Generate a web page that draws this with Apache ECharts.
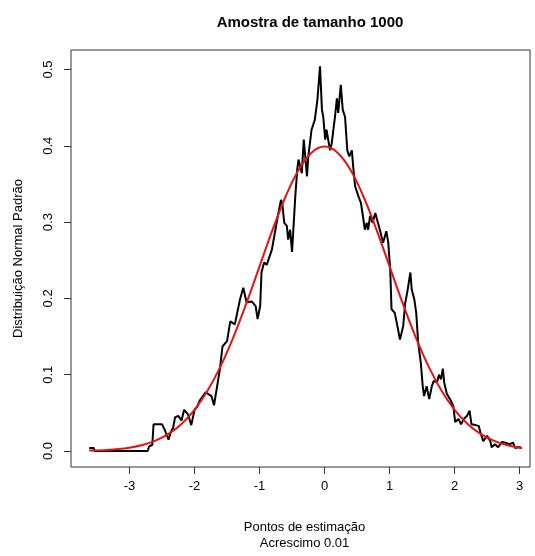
<!DOCTYPE html>
<html>
<head>
<meta charset="utf-8">
<script src="https://cdn.jsdelivr.net/npm/echarts@6/dist/echarts.min.js"></script>
<style>
html,body{margin:0;padding:0;background:#fff;}
#chart{width:535px;height:556px;}
</style>
</head>
<body>
<div id="chart"></div>
<script>
// Naive estimator (black): x positions and density values
var estX = [-3.62,-3.55,-3.54,-2.72,-2.70,-2.65,-2.63,-2.50,-2.46,-2.40,-2.36,-2.33,-2.30,-2.25,-2.20,-2.16,-2.10,-2.05,-2.00,-1.96,-1.92,-1.83,-1.74,-1.70,-1.66,-1.61,-1.57,-1.50,-1.45,-1.38,-1.30,-1.25,-1.20,-1.12,-1.06,-1.03,-0.99,-0.97,-0.93,-0.89,-0.81,-0.76,-0.71,-0.67,-0.65,-0.62,-0.58,-0.56,-0.53,-0.50,-0.45,-0.42,-0.40,-0.35,-0.32,-0.27,-0.25,-0.20,-0.15,-0.11,-0.07,-0.04,-0.02,0.01,0.03,0.085,0.11,0.16,0.19,0.21,0.25,0.28,0.315,0.35,0.38,0.42,0.44,0.47,0.52,0.56,0.59,0.62,0.65,0.67,0.70,0.74,0.78,0.81,0.85,0.90,0.95,0.98,1.01,1.03,1.08,1.12,1.16,1.21,1.24,1.27,1.32,1.34,1.38,1.41,1.44,1.48,1.51,1.53,1.57,1.61,1.65,1.68,1.73,1.76,1.79,1.82,1.84,1.88,1.93,1.98,2.01,2.06,2.10,2.14,2.19,2.23,2.26,2.32,2.37,2.40,2.44,2.50,2.55,2.57,2.62,2.67,2.73,2.78,2.85,2.90,2.93,2.97,3.02];
var estY = [0.004,0.004,0.000,0.000,0.006,0.008,0.035,0.035,0.028,0.015,0.026,0.030,0.044,0.046,0.040,0.054,0.048,0.034,0.054,0.058,0.066,0.077,0.072,0.060,0.081,0.107,0.137,0.144,0.170,0.166,0.199,0.214,0.195,0.196,0.190,0.173,0.190,0.234,0.247,0.244,0.264,0.288,0.312,0.329,0.325,0.299,0.295,0.277,0.290,0.261,0.334,0.369,0.382,0.364,0.408,0.360,0.386,0.421,0.434,0.460,0.504,0.447,0.438,0.408,0.421,0.394,0.403,0.438,0.462,0.443,0.480,0.447,0.438,0.394,0.386,0.394,0.373,0.347,0.334,0.325,0.308,0.290,0.299,0.290,0.308,0.299,0.312,0.314,0.290,0.273,0.288,0.273,0.238,0.186,0.181,0.164,0.146,0.164,0.194,0.207,0.234,0.212,0.199,0.181,0.142,0.116,0.085,0.072,0.085,0.068,0.085,0.092,0.090,0.100,0.094,0.108,0.090,0.075,0.068,0.059,0.038,0.042,0.035,0.042,0.046,0.053,0.035,0.034,0.033,0.024,0.013,0.020,0.013,0.005,0.009,0.005,0.012,0.011,0.009,0.011,0.004,0.005,0.005];

// Standard normal density (red), values read at these x positions
var normX = [-3.62,-3.4,-3.2,-3.0,-2.8,-2.6,-2.4,-2.2,-2.0,-1.8,-1.6,-1.4,-1.2,-1.0,-0.8,-0.6,-0.4,-0.2,0.0,0.2,0.4,0.6,0.8,1.0,1.2,1.4,1.6,1.8,2.0,2.2,2.4,2.6,2.8,3.0,3.04];
var normY = [0.0006,0.0012,0.0024,0.0044,0.0079,0.0136,0.0224,0.0355,0.0540,0.0790,0.1109,0.1497,0.1942,0.2420,0.2897,0.3332,0.3683,0.3910,0.3989,0.3910,0.3683,0.3332,0.2897,0.2420,0.1942,0.1497,0.1109,0.0790,0.0540,0.0355,0.0224,0.0136,0.0079,0.0044,0.0039];

var xTicks = [-3,-2,-1,0,1,2,3];
var yTicks = [0,0.1,0.2,0.3,0.4,0.5];

var titleText = 'Amostra de tamanho 1000';
var xName = 'Pontos de estimação\nAcrescimo 0.01';
var yName = 'Distribuição Normal Padrão';

function pairs(xs, ys){ var o=[]; for(var i=0;i<xs.length;i++) o.push([xs[i], ys[i]]); return o; }

var font = 'Arial, "Liberation Sans", sans-serif';
var chart = echarts.init(document.getElementById('chart'), null, {renderer:'canvas'});
chart.setOption({
  animation: false,
  backgroundColor: '#fff',
  title: {
    text: titleText,
    left: 305, top: 10, textAlign: 'center',
    textStyle: {fontFamily: font, fontSize: 15, fontWeight: 'bold', color: '#000'}
  },
  grid: {left: 71, top: 50, width: 459, height: 418, show: true, borderColor: '#333', borderWidth: 1, backgroundColor: 'transparent'},
  xAxis: {
    type: 'value', min: -3.9, max: 3.16,
    splitLine: {show: false},
    axisLine: {show: false, onZero: false},
    axisTick: {show: true, inside: false, length: 7, customValues: xTicks, lineStyle: {color: '#333'}},
    axisLabel: {customValues: xTicks, margin: 13, fontSize: 13, fontFamily: font, color: '#000',
      formatter: function(v){ return String(v); }},
    name: xName, nameLocation: 'middle', nameGap: 53,
    nameTextStyle: {fontFamily: font, fontSize: 13, color: '#000', lineHeight: 15.5, padding: [0, 0, 0, 8]}
  },
  yAxis: {
    type: 'value', min: -0.0209, max: 0.5255,
    splitLine: {show: false},
    axisLine: {show: false, onZero: false},
    axisTick: {show: true, inside: false, length: 7, customValues: yTicks, lineStyle: {color: '#333'}},
    axisLabel: {customValues: yTicks, rotate: 90, margin: 16, fontSize: 13, fontFamily: font, color: '#000',
      formatter: function(v){ return v.toFixed(1); }},
    name: yName, nameLocation: 'middle', nameGap: 46, nameRotate: 90,
    nameTextStyle: {fontFamily: font, fontSize: 13, color: '#000'}
  },
  series: [
    {type: 'line', data: pairs(estX, estY), showSymbol: false, symbol: 'none',
     lineStyle: {color: '#000', width: 2}, z: 2},
    {type: 'line', data: pairs(normX, normY), showSymbol: false, symbol: 'none', smooth: 0.4,
     lineStyle: {color: '#e31414', width: 2}, z: 3}
  ]
});
</script>
</body>
</html>
